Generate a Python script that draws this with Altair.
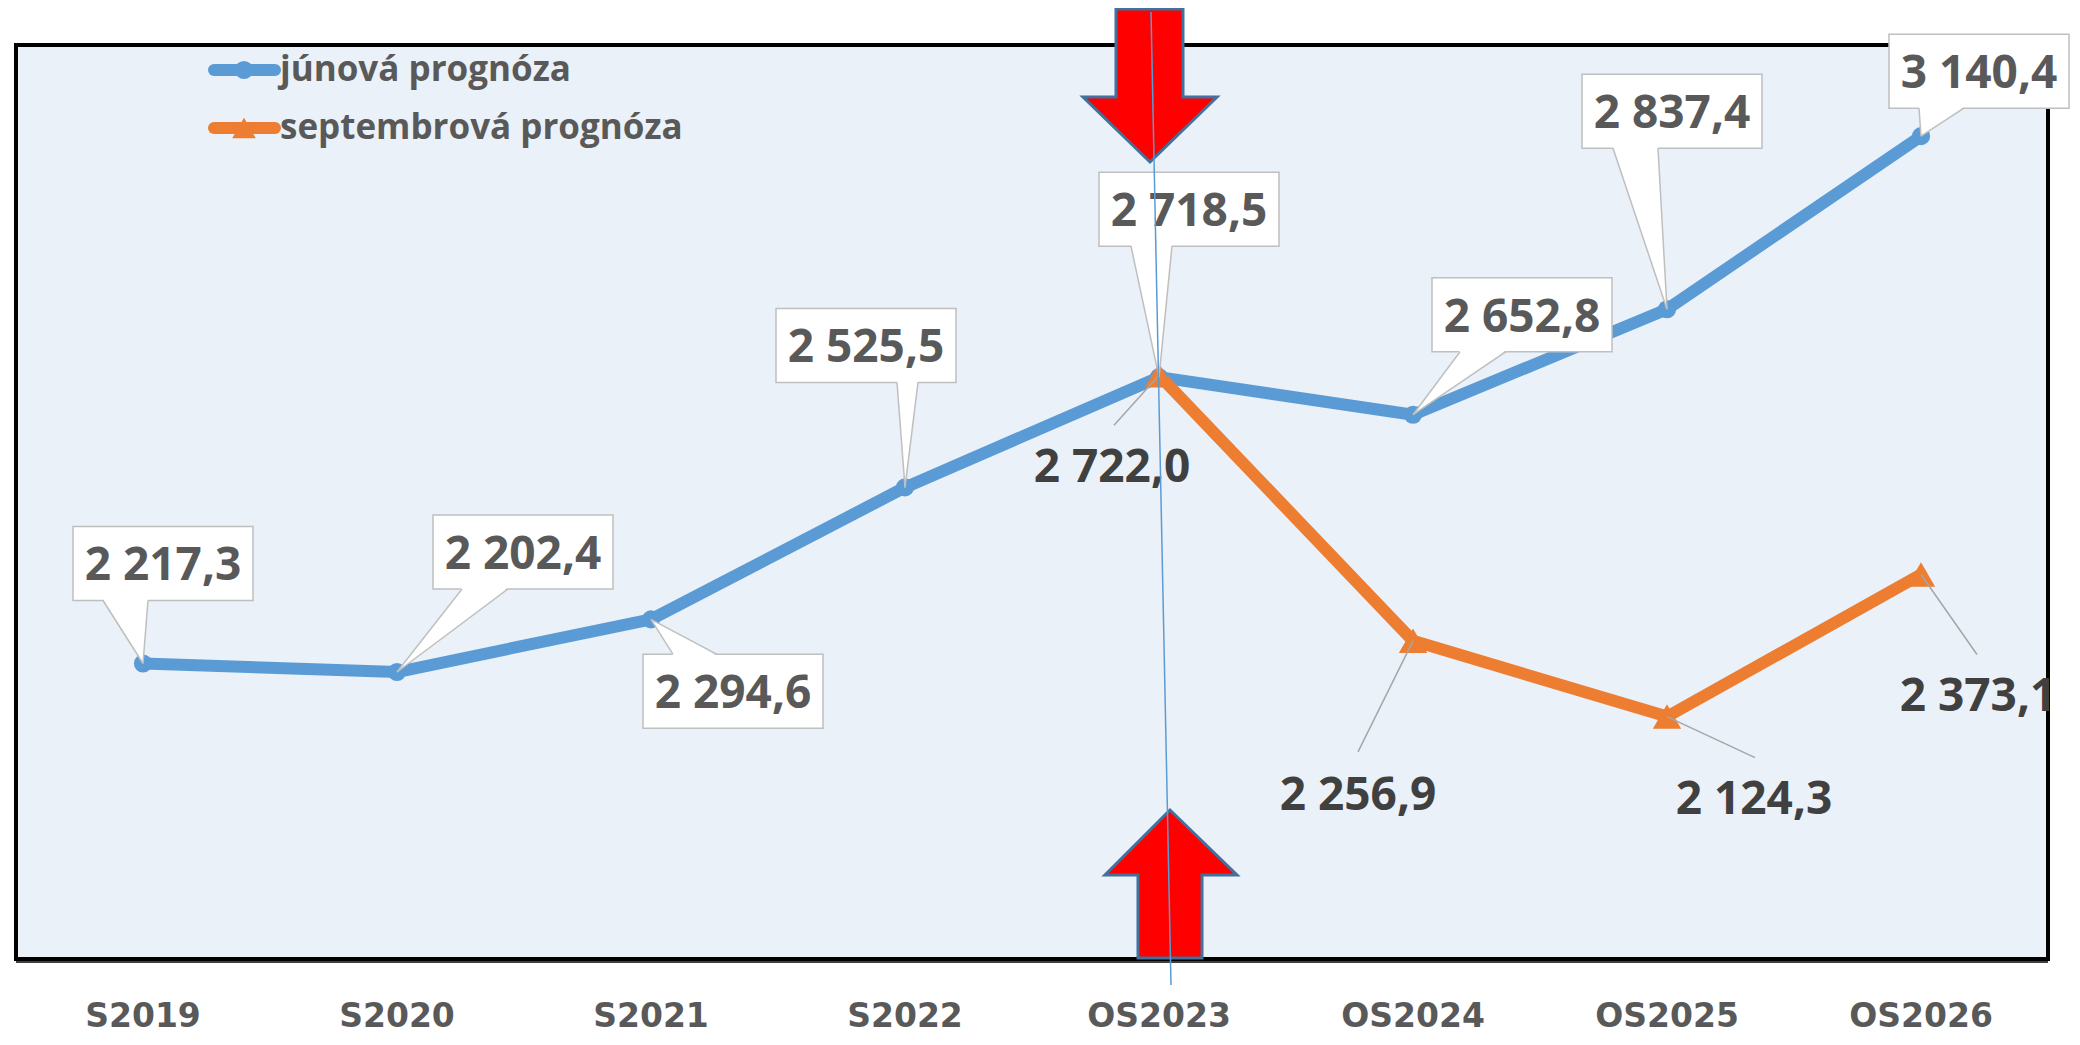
import json
import altair as alt
import pandas as pd

# ------------------------------------------------------------------ data
categories = ["S2019", "S2020", "S2021", "S2022", "OS2023", "OS2024", "OS2025", "OS2026"]
june_values = [2217.3, 2202.4, 2294.6, 2525.5, 2718.5, 2652.8, 2837.4, 3140.4]
sept_categories = ["OS2023", "OS2024", "OS2025", "OS2026"]
sept_values = [2722.0, 2256.9, 2124.3, 2373.1]
series_names = ["júnová prognóza", "septembrová prognóza"]
y_domain = [1700, 3300]
y_grid = [1900, 2100, 2300, 2500, 2700, 2900, 3100]

# ------------------------------------------------------------------ style
BLUE = "#5B9BD5"
ORANGE = "#ED7D31"
FONT = "Open Sans"
AXIS_FONT = "DejaVu Sans"
GRID = "#D9D9D9"
PLOT_BG = "#EAF1F8"
LABEL_GRAY = "#595959"
LABEL_DARK = "#404040"
BOX_STROKE = "#BFBFBF"
LEADER = "#A6A6A6"
LINE_W = 12

# ------------------------------------------------------------------ layout (pixels)
W, H = 2032, 914
PAD = {"left": 8, "top": 37, "right": 24, "bottom": 78}
LEFT = 8 + PAD["left"]
TOP = 8 + PAD["top"]
X_DOM = [-0.5, len(categories) - 0.5]
PXX = W / (X_DOM[1] - X_DOM[0])
PXY = H / (y_domain[1] - y_domain[0])


def ux(px):
    return X_DOM[0] + (px - LEFT) / PXX


def uy(py):
    return y_domain[0] + (TOP + H - py) / PXY


# label box centre offsets from the point (px, y down) and wedge base x-offsets
june_box_offsets = [(20, -100), (126, -120), (82, 72), (-39, -142), (30, -168), (109, -100), (5, -198), (58, -65)]
june_wedge_base = [(-40, 5), (65, 111), (22, 66), (-8, 13), (-28, 13), (47, 93), (-54, -9), (-2, 43)]
BOX_W, BOX_H = 180, 74
sept_text_offsets = [(-47, 90), (-55, 152), (87, 80), (57, 120)]
sept_leader_end = [(-45, 50), (-55, 111), (88, 41), (56, 80)]


def fmt(v):
    return f"{v:,.1f}".replace(",", " ").replace(".", ",")


# ------------------------------------------------------------------ tables
rows = []
for i, v in enumerate(june_values):
    rows.append({"series": series_names[0], "xi": i, "value": v})
for c, v in zip(sept_categories, sept_values):
    rows.append({"series": series_names[1], "xi": categories.index(c), "value": v})
main = pd.DataFrame(rows)

cats = pd.DataFrame({"xi": list(range(len(categories))), "cat": categories, "y": y_domain[0]})

boxes, wedges, wedge_edges = [], [], []
for i, v in enumerate(june_values):
    ox, oy = june_box_offsets[i]
    cx = i + ox / PXX
    cy = v - oy / PXY
    boxes.append({
        "text": fmt(v), "cx": cx, "cy": cy,
        "x1": cx - BOX_W / 2 / PXX, "x2": cx + BOX_W / 2 / PXX,
        "y1": cy - BOX_H / 2 / PXY, "y2": cy + BOX_H / 2 / PXY,
    })
    bl, br = june_wedge_base[i]
    edge = oy + BOX_H / 2 if oy < 0 else oy - BOX_H / 2
    inset = edge - 1.5 if oy < 0 else edge + 1.5
    wedges.append({"id": i, "y": v - inset / PXY, "x": i + bl / PXX, "x2": i + br / PXX})
    wedges.append({"id": i, "y": v, "x": i, "x2": i})
    for b in (bl, br):
        wedge_edges.append({"x": i + b / PXX, "y": v - edge / PXY, "x2": i, "y2": v})
boxes = pd.DataFrame(boxes)
wedges = pd.DataFrame(wedges)
wedge_edges = pd.DataFrame(wedge_edges)

sept_lab, leaders = [], []
for k, (c, v) in enumerate(zip(sept_categories, sept_values)):
    i = categories.index(c)
    tx, ty = sept_text_offsets[k]
    lx, ly = sept_leader_end[k]
    sept_lab.append({"text": fmt(v), "x": i + tx / PXX, "y": v - ty / PXY})
    leaders.append({"x": i, "y": v, "x2": i + lx / PXX, "y2": v - ly / PXY})
sept_lab = pd.DataFrame(sept_lab)
leaders = pd.DataFrame(leaders)

# arrows (page px): rows ordered top -> bottom
down_arrow = [(9, 1116, 1183), (96.99, 1116, 1183), (97.01, 1083, 1217), (162, 1150, 1150)]
up_arrow = [(810, 1170, 1170), (874.99, 1105, 1237), (875.01, 1138, 1202), (958, 1138, 1202)]
arrows = []
for aid, pts in enumerate([down_arrow, up_arrow]):
    for py, a, b in pts:
        arrows.append({"id": aid, "y": uy(py), "x": ux(a), "x2": ux(b)})
arrows = pd.DataFrame(arrows)
marker_line = pd.DataFrame([{"x": ux(1151), "y": uy(12), "x2": ux(1171), "y2": uy(985)}])
base_line = pd.DataFrame([{"x": X_DOM[0], "x2": X_DOM[1], "y": y_domain[0]}])

legend = pd.DataFrame([
    {"series": s, "y": uy(py), "x1": ux(214), "x2": ux(275), "xm": ux(244), "xt": ux(280)}
    for s, py in zip(series_names, [70, 128])
])

# ------------------------------------------------------------------ scales
xs = alt.Scale(domain=X_DOM, nice=False, zero=False)
ys = alt.Scale(domain=y_domain, nice=False, zero=False)
color = alt.Color("series:N", scale=alt.Scale(domain=series_names, range=[BLUE, ORANGE]), legend=None)
shape = alt.Shape("series:N", scale=alt.Scale(domain=series_names, range=["circle", "triangle-up"]), legend=None)
msize = alt.Size("series:N", scale=alt.Scale(domain=series_names, range=[330, 800]), legend=None)


def X(f):
    return alt.X(f, scale=xs, axis=None, title=None)


def Y(f):
    return alt.Y(f, scale=ys, axis=None, title=None)


lines = alt.Chart(main).mark_line(strokeWidth=LINE_W, strokeJoin="round", strokeCap="round").encode(
    x=X("xi:Q"),
    y=alt.Y("value:Q", scale=ys, title=None, axis=alt.Axis(
        values=y_grid, grid=True, gridColor=GRID, gridWidth=2, labels=False, ticks=False, domain=False)),
    color=color,
    detail="series:N",
)

x_labels = alt.Chart(cats).mark_text(
    font=AXIS_FONT, fontSize=33, fontWeight="bold", color=LABEL_GRAY, align="center", baseline="alphabetic", dy=68
).encode(x=X("xi:Q"), y=Y("y:Q"), text="cat:N")

bottom_rule = alt.Chart(base_line).mark_rule(color="#404040", strokeWidth=2, yOffset=3).encode(
    x=X("x:Q"), x2="x2:Q", y=Y("y:Q"))

markers = alt.Chart(main).mark_point(filled=True, opacity=1).encode(
    x=X("xi:Q"), y=Y("value:Q"), color=color, shape=shape, size=msize,
)

leader_lines = alt.Chart(leaders).mark_rule(color=LEADER, strokeWidth=1.5).encode(
    x=X("x:Q"), y=Y("y:Q"), x2="x2:Q", y2="y2:Q")

sept_text = alt.Chart(sept_lab).mark_text(
    font=FONT, fontSize=46, fontWeight="bold", color=LABEL_DARK, align="center", baseline="middle", dy=3
).encode(x=X("x:Q"), y=Y("y:Q"), text="text:N")

box_rects = alt.Chart(boxes).mark_rect(fill="white", stroke=BOX_STROKE, strokeWidth=1.5).encode(
    x=X("x1:Q"), x2="x2:Q", y=Y("y1:Q"), y2="y2:Q")

wedge_fill = alt.Chart(wedges).mark_area(orient="horizontal", color="white", opacity=1).encode(
    y=Y("y:Q"), x=alt.X("x:Q", scale=xs, axis=None, title=None, stack=None), x2="x2:Q", detail="id:N")

wedge_lines = alt.Chart(wedge_edges).mark_rule(color=BOX_STROKE, strokeWidth=1.5).encode(
    x=X("x:Q"), y=Y("y:Q"), x2="x2:Q", y2="y2:Q")

box_text = alt.Chart(boxes).mark_text(
    font=FONT, fontSize=46, fontWeight="bold", color=LABEL_GRAY, align="center", baseline="middle", dy=3
).encode(x=X("cx:Q"), y=Y("cy:Q"), text="text:N")

arrow_shapes = alt.Chart(arrows).mark_area(
    orient="horizontal", fill="#FF0000", stroke="#41719C", strokeWidth=3, opacity=1, strokeJoin="miter"
).encode(y=Y("y:Q"), x=alt.X("x:Q", scale=xs, axis=None, title=None, stack=None), x2="x2:Q", detail="id:N")

thin_line = alt.Chart(marker_line).mark_rule(color=BLUE, strokeWidth=1.5).encode(
    x=X("x:Q"), y=Y("y:Q"), x2="x2:Q", y2="y2:Q")

leg_lines = alt.Chart(legend).mark_rule(strokeWidth=LINE_W, strokeCap="round").encode(
    x=X("x1:Q"), x2="x2:Q", y=Y("y:Q"), color=color)
leg_marks = alt.Chart(legend).mark_point(filled=True, opacity=1).encode(
    x=X("xm:Q"), y=Y("y:Q"), color=color, shape=shape,
    size=alt.Size("series:N", scale=alt.Scale(domain=series_names, range=[330, 560]), legend=None))
leg_text = alt.Chart(legend).mark_text(
    font=FONT, fontSize=35, fontWeight="bold", color=LABEL_GRAY, align="left", baseline="middle", dy=0
).encode(x=X("xt:Q"), y=Y("y:Q"), text="series:N")

chart = alt.layer(
    lines, bottom_rule, x_labels, markers, leader_lines, sept_text, box_rects, wedge_fill, wedge_lines,
    box_text, arrow_shapes, thin_line, leg_lines, leg_marks, leg_text,
).resolve_scale(size="independent").properties(
    width=W, height=H, padding=PAD, autosize=alt.AutoSizeParams(type="none"), background="white",
).configure_view(
    stroke="black", strokeWidth=4, fill=PLOT_BG,
)

chart.save("out.html", embed_options={"renderer": "svg", "actions": False})
